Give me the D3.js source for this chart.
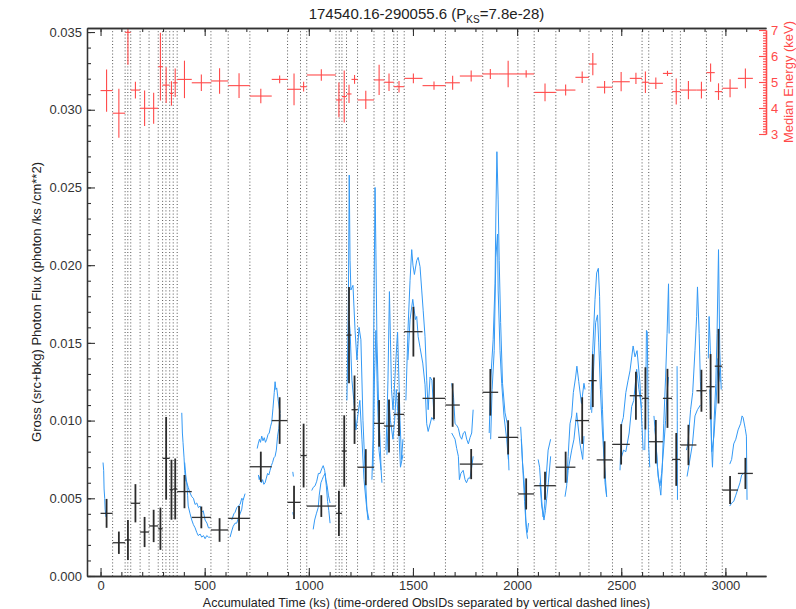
<!DOCTYPE html>
<html>
<head>
<meta charset="utf-8">
<script src="https://cdn.jsdelivr.net/npm/d3@7"></script>
<style>
  body { margin: 0; background: #fff; }
  text { font-family: "Liberation Sans", Arial, sans-serif; }
</style>
</head>
<body>
<div id="chart"></div>
<script>
// ---- data (time in ks, flux in photon/ks/cm**2, energy in keV) ----
var obsBoundaries = [58, 118, 131, 145, 190, 233, 277, 298, 314, 332, 349, 368, 530, 613, 717, 898,
  960, 990, 1130, 1146, 1159, 1181, 1234, 1313, 1362, 1408, 1425, 1458, 1656, 1835, 2004, 2082,
  2186, 2345, 2458, 2600, 2632, 2744, 2784, 2909, 2985];

var binEdges = [0, 58, 118, 145, 190, 233, 277, 298, 332, 349, 368, 438, 530, 613, 717, 822, 898,
  960, 990, 1130, 1159, 1181, 1205, 1234, 1313, 1362, 1408, 1458, 1546, 1656, 1725, 1834, 1909,
  2005, 2082, 2186, 2280, 2345, 2382, 2458, 2541, 2600, 2632, 2700, 2744, 2784, 2861, 2909, 2949,
  2985, 3060, 3132];

var flux = [.00403, .00214, .00232, .00468, .00283, .00322, .00304, .00757, .00555, .00560, .00543,
  .00377, .00296, .00371, .00703, .01000, .00474, .00775, .00450, .00403, .00804, .01550, .01070,
  .00700, .00982, .00965, .01040, .01572, .01143, .01100, .00720, .01182, .00892, .00528, .00581,
  .00700, .01000, .01257, .00747, .00847, .01160, .01143, .00864, .01143, .00750, .00843, .01192,
  .01218, .01350, .00553, .00660];

var fluxErr = [.00093, .00072, .00129, .00123, .00097, .00104, .00136, .00266, .00193, .00196, .00107,
  .00070, .00076, .00080, .00097, .00150, .00107, .00205, .00070, .00145, .00230, .00310, .00220,
  .00116, .00150, .00170, .00140, .00160, .00134, .00140, .00097, .00150, .00110, .00100, .00090,
  .00100, .00150, .00170, .00120, .00130, .00155, .00200, .00140, .00190, .00170, .00130, .00135,
  .00210, .00240, .00090, .00100];

var energy = [4.67, 3.80, 6.91, 4.69, 3.99, 3.99, 5.59, 4.88, 4.56, 4.97, 5.10, 4.97, 5.04, 4.86, 4.46,
  5.10, 4.72, 4.82, 5.27, 4.31, 4.44, 4.54, 5.10, 4.31, 5.08, 4.99, 4.82, 5.14, 4.86, 4.97, 5.23,
  5.31, 5.31, 5.31, 4.60, 4.69, 5.18, 5.69, 4.80, 5.01, 5.14, 4.99, 4.95, 5.33, 4.63, 4.69, 4.69,
  5.36, 4.63, 4.76, 5.14];

var energyErr = [0.81, 0.94, 1.25, 0.32, 0.68, 0.60, 1.30, 0.69, 0.47, 0.55, 0.72, 0.32, 0.49, 0.48,
  0.28, 0.15, 0.61, 0.19, 0.22, 0.67, 1.00, 0.35, 0.17, 0.35, 0.58, 0.34, 0.22, 0.19, 0.16, 0.27,
  0.21, 0.19, 0.51, 0.14, 0.34, 0.21, 0.22, 0.43, 0.24, 0.37, 0.22, 0.41, 0.22, 0.10, 0.50, 0.35,
  0.32, 0.35, 0.32, 0.35, 0.38];

// smoothed light curves inside each ObsID, [time, flux]
var lightCurves = [
  [[12,.0073],[15,.0068],[17,.0056],[20,.0050],[22,.0043],[26,.0038]],
  [[390,.0105],[393,.0092],[396,.0086],[401,.0076],[404,.0068],[408,.0062],[414,.0060],[421,.0057],[428,.0054],[438,.0051],[446,.0050],[454,.0046],[462,.0047],[470,.0044],[478,.0045],[486,.0041],[493,.0042],[502,.0036],[511,.0034],[518,.0031],[526,.0031]],
  [[404,.0073],[409,.0065],[414,.0060],[418,.0052],[421,.0045],[430,.0040],[438,.0036],[446,.0033],[454,.0031],[462,.0028],[469,.0026],[478,.0027],[486,.0025],[494,.0026],[502,.0024],[510,.0026],[518,.0025],[526,.0025]],
  [[630,.0036],[640,.0040],[646,.0041],[654,.0044],[661,.0045],[670,.0046],[678,.0050],[685,.0049],[694,.0053]],
  [[622,.0025],[630,.0029],[637,.0032],[646,.0034],[654,.0034],[661,.0037],[670,.0040],[678,.0043],[685,.0050]],
  [[752,.0082],[757,.0085],[763,.0088],[768,.0086],[774,.0090],[780,.0087],[786,.0089],[792,.0086],[798,.0088],[804,.0091],[810,.0092],[816,.0096],[822,.0099],[828,.0108],[834,.0118],[838,.0125],[842,.0120],[846,.0121],[852,.0114],[858,.0108],[862,.0105]],
  [[758,.0065],[762,.0062],[766,.0064],[772,.0060],[778,.0062],[784,.0059],[790,.0060],[796,.0063],[802,.0066],[808,.0065],[814,.0068],[820,.0071],[826,.0073],[832,.0076],[838,.0077],[844,.0081],[850,.0090],[856,.0095],[862,.0104]],
  [[923,.0067],[926,.0064]],
  [[923,.0041],[926,.0039]],
  [[1014,.0055],[1021,.0057],[1030,.0058],[1038,.0061],[1046,.0066],[1054,.0066],[1062,.0069],[1069,.0071],[1076,.0068],[1082,.0062],[1088,.0058],[1094,.0052],[1102,.0047]],
  [[1021,.0030],[1028,.0036],[1036,.0040],[1045,.0044],[1050,.0052],[1058,.0060],[1064,.0062],[1070,.0064],[1078,.0066],[1084,.0058],[1090,.0048],[1096,.0042],[1102,.0034]],
  [[1183,.0113],[1190,.0178],[1194,.0258],[1198,.0203],[1202,.0184],[1212,.0187],[1222,.0158],[1231,.0139],[1241,.0160],[1250,.0152],[1260,.0100],[1270,.0068],[1279,.0043],[1289,.0036]],
  [[1188,.0126],[1194,.0164],[1198,.0158],[1207,.0126],[1216,.0113],[1226,.0094],[1236,.0104],[1245,.0113],[1255,.0088],[1265,.0062],[1274,.0049],[1284,.0036]],
  [[1303,.0062],[1308,.0088],[1313,.0178],[1318,.0250],[1322,.0210],[1327,.0152],[1332,.0126],[1337,.0100],[1342,.0088],[1347,.0068],[1351,.0060]],
  [[1308,.0068],[1315,.0126],[1322,.0158],[1330,.0113],[1337,.0081],[1347,.0068]],
  [[1370,.0081],[1375,.0100],[1380,.0126],[1387,.0183],[1392,.0152],[1397,.0120],[1404,.0107],[1409,.0116],[1418,.0139],[1426,.0157],[1430,.0139],[1438,.0100],[1445,.0075],[1452,.0088]],
  [[1375,.0078],[1385,.0113],[1392,.0100],[1404,.0088],[1412,.0100],[1420,.0120],[1430,.0100],[1440,.0070],[1452,.0078]],
  [[1466,.0113],[1476,.0158],[1486,.0190],[1494,.0210],[1500,.0200],[1507,.0194],[1518,.0203],[1525,.0205],[1534,.0199],[1542,.0184],[1549,.0171],[1558,.0154],[1566,.0126],[1573,.0107],[1582,.0128],[1591,.0126],[1601,.0103]],
  [[1476,.0139],[1486,.0165],[1499,.0178],[1505,.0172],[1512,.0165],[1518,.0167],[1525,.0154],[1534,.0147],[1547,.0137],[1558,.0123],[1566,.0098],[1573,.0093],[1590,.0102],[1601,.0100]],
  [[1686,.0124],[1690,.0120],[1695,.0115],[1702,.0098],[1710,.0097],[1718,.0095],[1726,.0090],[1734,.0088],[1742,.0092],[1750,.0093],[1758,.0088],[1766,.0085],[1774,.0089],[1782,.0092],[1789,.0107]],
  [[1686,.0092],[1694,.0090],[1702,.0088],[1710,.0082],[1718,.0077],[1723,.0062],[1730,.0066],[1741,.0068],[1750,.0062],[1757,.0060],[1766,.0063],[1774,.0063],[1782,.0070],[1789,.0077]],
  [[1866,.0092],[1874,.0128],[1885,.0152],[1894,.0188],[1898,.0231],[1903,.0273],[1909,.0242],[1914,.0203],[1921,.0163],[1930,.0124],[1942,.0105],[1953,.0098],[1961,.0068]],
  [[1873,.0088],[1880,.0120],[1890,.0145],[1898,.0205],[1906,.0220],[1909,.0184],[1918,.0145],[1926,.0124],[1937,.0103],[1950,.0088],[1958,.0075]],
  [[2017,.0096],[2022,.0085],[2026,.0073],[2033,.0062],[2038,.0050],[2042,.0036],[2046,.0030],[2049,.0028],[2052,.0031],[2055,.0034]],
  [[2020,.0088],[2028,.0068],[2036,.0048],[2044,.0030],[2050,.0024]],
  [[2101,.0075],[2108,.0070],[2118,.0049],[2125,.0038],[2132,.0045],[2142,.0068],[2149,.0081],[2161,.0088]],
  [[2110,.0060],[2118,.0045],[2129,.0036],[2136,.0042],[2142,.0050],[2150,.0060],[2161,.0077]],
  [[2230,.0051],[2238,.0058],[2245,.0077],[2254,.0098],[2262,.0103],[2270,.0118],[2281,.0128],[2287,.0135],[2296,.0125],[2309,.0111],[2321,.0124],[2326,.0120]],
  [[2240,.0060],[2245,.0068],[2262,.0081],[2273,.0088],[2286,.0105],[2302,.0085],[2315,.0075],[2321,.0090]],
  [[2353,.0107],[2363,.0145],[2374,.0178],[2382,.0195],[2390,.0198],[2396,.0180],[2401,.0145],[2410,.0107],[2417,.0081],[2422,.0060],[2430,.0051]],
  [[2358,.0105],[2368,.0135],[2377,.0163],[2386,.0168],[2392,.0150],[2400,.0120],[2410,.0092],[2418,.0075],[2430,.0051]],
  [[2494,.0068],[2502,.0098],[2510,.0102],[2522,.0118],[2533,.0126],[2542,.0132],[2557,.0148],[2566,.0141],[2576,.0145],[2590,.0124],[2605,.0081]],
  [[2498,.0075],[2511,.0081],[2522,.0080],[2538,.0092],[2550,.0109],[2560,.0113],[2574,.0133],[2585,.0120],[2598,.0108]],
  [[2613,.0081],[2618,.0120],[2621,.0158],[2625,.0157],[2631,.0085],[2637,.0070]],
  [[2657,.0103],[2665,.0090],[2674,.0070],[2682,.0060],[2690,.0052],[2697,.0070],[2704,.0098],[2713,.0128],[2720,.0156],[2727,.0188],[2730,.0156]],
  [[2662,.0095],[2677,.0064],[2686,.0058],[2694,.0066],[2704,.0083],[2713,.0100],[2720,.0118],[2727,.0128]],
  [[2768,.0135],[2769,.0100],[2770,.0049]],
  [[2813,.0081],[2820,.0085],[2833,.0107],[2843,.0118],[2854,.0145],[2862,.0167],[2866,.0186],[2874,.0156],[2880,.0125],[2886,.0111]],
  [[2816,.0064],[2826,.0072],[2842,.0085],[2854,.0103],[2866,.0107],[2880,.0110]],
  [[2918,.0140],[2922,.0167],[2928,.0145],[2933,.0085],[2938,.0070],[2946,.0100],[2954,.0124],[2960,.0156],[2967,.0210],[2973,.0145],[2980,.0120]],
  [[2925,.0120],[2935,.0080],[2945,.0090],[2955,.0110],[2965,.0140],[2975,.0125]],
  [[3021,.0072],[3030,.0075],[3040,.0085],[3050,.0088],[3061,.0094],[3073,.0098],[3080,.0103],[3085,.0102],[3095,.0095],[3101,.0090],[3104,.0049]],
  [[3021,.0045],[3030,.0047],[3040,.0048],[3050,.0052],[3060,.0056],[3070,.0060],[3078,.0065],[3088,.0066],[3098,.0067]]
];

var timeTicks = [0, 500, 1000, 1500, 2000, 2500, 3000];
var fluxTicks = [0, 0.005, 0.010, 0.015, 0.020, 0.025, 0.030, 0.035];
var energyTicks = [3, 4, 5, 6, 7];

// ---- layout ----
var margin = { top: 28, left: 87, right: 30, bottom: 33 },
    width = 796 - margin.left - margin.right,
    height = 609 - margin.top - margin.bottom;

var svg = d3.select("#chart")
    .append("svg")
    .attr("width", width + margin.left + margin.right)
    .attr("height", height + margin.top + margin.bottom)
    .append("g")
    .attr("transform", "translate(" + margin.left + "," + margin.top + ")");

var x = d3.scaleLinear().domain([-65, 3195]).range([0, width]);
var y = d3.scaleLinear().domain([0, 0.03526]).range([height, 0]);
var yE = d3.scaleLinear().domain([3, 7]).range([106, 2]);

svg.append("clipPath").attr("id", "plotclip")
  .append("rect").attr("width", width).attr("height", height);

var bins = flux.map(function(f, i) {
  return { t0: binEdges[i], t1: binEdges[i + 1], f: f, fe: fluxErr[i], e: energy[i], ee: energyErr[i] };
});

// dashed ObsID separators
svg.selectAll(".obs")
  .data(obsBoundaries)
  .enter().append("line")
  .attr("class", "obs")
  .attr("x1", function(d) { return x(d); })
  .attr("x2", function(d) { return x(d); })
  .attr("y1", 0).attr("y2", height)
  .attr("stroke", "#555").attr("stroke-width", 1)
  .attr("stroke-dasharray", "1,2.2");

var plot = svg.append("g").attr("clip-path", "url(#plotclip)");

// light curves
var line = d3.line()
  .x(function(d) { return x(d[0]); })
  .y(function(d) { return y(d[1]); });

plot.selectAll(".lc")
  .data(lightCurves)
  .enter().append("path")
  .attr("class", "lc")
  .attr("d", line)
  .attr("fill", "none")
  .attr("stroke", "#3399f5")
  .attr("stroke-width", 1);

// flux crosses
var fx = plot.append("g");
fx.selectAll(".fh").data(bins).enter().append("line")
  .attr("x1", function(d) { return x(d.t0); })
  .attr("x2", function(d) { return x(d.t1); })
  .attr("y1", function(d) { return y(d.f); })
  .attr("y2", function(d) { return y(d.f); })
  .attr("stroke", "#333").attr("stroke-width", 1.3);
fx.selectAll(".fv").data(bins).enter().append("line")
  .attr("x1", function(d) { return x((d.t0 + d.t1) / 2); })
  .attr("x2", function(d) { return x((d.t0 + d.t1) / 2); })
  .attr("y1", function(d) { return y(d.f - d.fe); })
  .attr("y2", function(d) { return y(d.f + d.fe); })
  .attr("stroke", "#2b2b2b").attr("stroke-width", 1.8);

// energy crosses
var ex = plot.append("g");
ex.selectAll(".eh").data(bins).enter().append("line")
  .attr("x1", function(d) { return x(d.t0); })
  .attr("x2", function(d) { return x(d.t1); })
  .attr("y1", function(d) { return yE(d.e); })
  .attr("y2", function(d) { return yE(d.e); })
  .attr("stroke", "#ff4a4a").attr("stroke-width", 1.1);
ex.selectAll(".ev").data(bins).enter().append("line")
  .attr("x1", function(d) { return x((d.t0 + d.t1) / 2); })
  .attr("x2", function(d) { return x((d.t0 + d.t1) / 2); })
  .attr("y1", function(d) { return yE(d.e - d.ee); })
  .attr("y2", function(d) { return yE(d.e + d.ee); })
  .attr("stroke", "#ff4a4a").attr("stroke-width", 1.1);

// ---- axes ----
function styleAxis(g, color) {
  g.selectAll("path").attr("stroke", color).attr("stroke-width", 1.3);
  g.selectAll("line").attr("stroke", color).attr("stroke-width", 1.1);
  g.selectAll("text").attr("fill", color).style("font-size", "13px")
    .style("font-family", "'Liberation Sans', Arial, sans-serif");
}

var minorT = d3.range(0, 3200, 100);
var minorF = d3.range(0, 0.0351, 0.001);

svg.append("g").attr("transform", "translate(0," + height + ")")
  .call(d3.axisBottom(x).tickValues(minorT).tickSize(-4).tickFormat("").tickSizeOuter(0))
  .call(styleAxis, "#333");
svg.append("g").attr("transform", "translate(0," + height + ")")
  .call(d3.axisBottom(x).tickValues(timeTicks).tickSize(-8).tickPadding(5)
    .tickFormat(d3.format("d")).tickSizeOuter(0))
  .call(styleAxis, "#333");
svg.append("g")
  .call(d3.axisTop(x).tickValues(minorT).tickSize(-4).tickFormat("").tickSizeOuter(0))
  .call(styleAxis, "#333");
svg.append("g")
  .call(d3.axisTop(x).tickValues(timeTicks).tickSize(-8).tickFormat("").tickSizeOuter(0))
  .call(styleAxis, "#333");

svg.append("g")
  .call(d3.axisLeft(y).tickValues(minorF).tickSize(-4).tickFormat("").tickSizeOuter(0))
  .call(styleAxis, "#333");
svg.append("g")
  .call(d3.axisLeft(y).tickValues(fluxTicks).tickSize(-8).tickPadding(5)
    .tickFormat(d3.format(".3f")).tickSizeOuter(0))
  .call(styleAxis, "#333");

var minorE = d3.range(3, 7.01, 0.1);
svg.append("g").attr("transform", "translate(" + width + ",0)")
  .call(d3.axisRight(yE).tickValues(minorE).tickSize(-3).tickFormat("").tickSizeOuter(0))
  .call(styleAxis, "#ff4a4a");
svg.append("g").attr("transform", "translate(" + width + ",0)")
  .call(d3.axisRight(yE).tickValues(energyTicks).tickSize(-7).tickPadding(5)
    .tickFormat(d3.format("d")).tickSizeOuter(0))
  .call(styleAxis, "#ff4a4a");

// ---- titles ----
var title = svg.append("text")
  .attr("x", width / 2).attr("y", -9)
  .attr("text-anchor", "middle")
  .style("font-size", "15px").attr("fill", "#222");
title.append("tspan").text("174540.16-290055.6 (P");
title.append("tspan").attr("dy", 4).style("font-size", "10px").text("KS");
title.append("tspan").attr("dy", -4).text("=7.8e-28)");

svg.append("text")
  .attr("x", width / 2).attr("y", height + 31)
  .attr("text-anchor", "middle")
  .style("font-size", "12.5px").attr("fill", "#222")
  .text("Accumulated Time (ks) (time-ordered ObsIDs separated by vertical dashed lines)");

svg.append("text")
  .attr("transform", "translate(" + (-46) + "," + (height / 2) + ") rotate(-90)")
  .attr("text-anchor", "middle")
  .style("font-size", "13px").attr("fill", "#222")
  .text("Gross (src+bkg) Photon Flux (photon /ks /cm**2)");

svg.append("text")
  .attr("transform", "translate(" + (width + 27) + "," + 54 + ") rotate(-90)")
  .attr("text-anchor", "middle")
  .style("font-size", "13px").attr("fill", "#ff4a4a")
  .text("Median Energy (keV)");
</script>
</body>
</html>
